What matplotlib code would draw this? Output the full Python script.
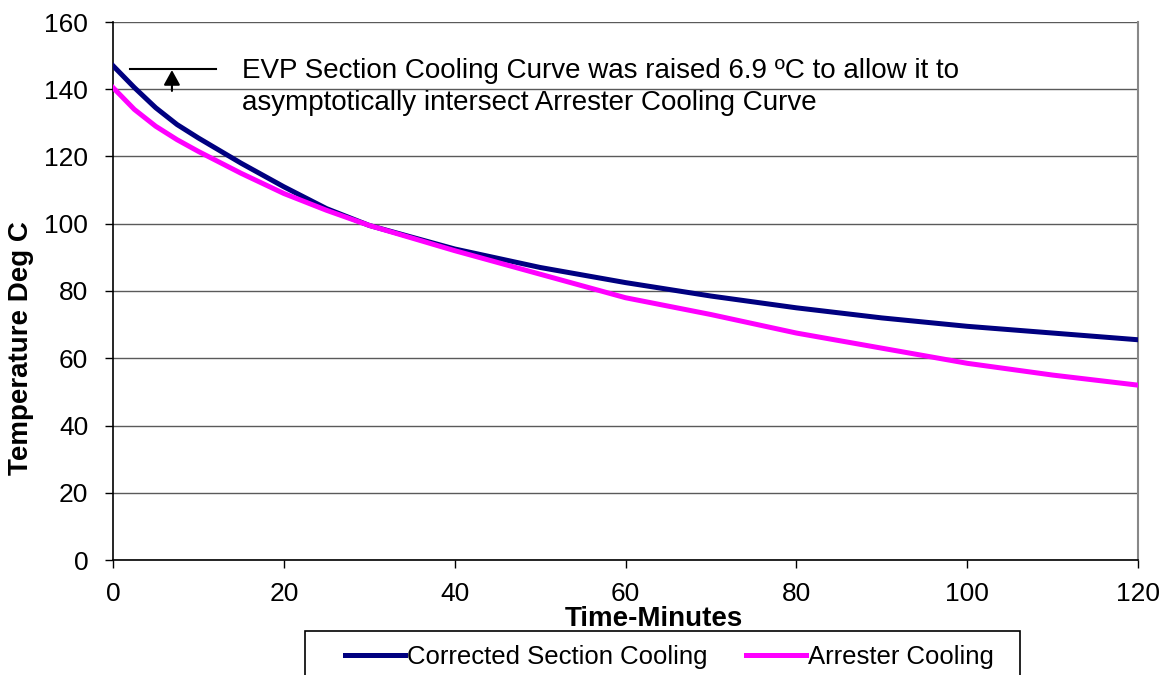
import matplotlib
matplotlib.use("Agg")
import matplotlib.pyplot as plt
from matplotlib.patches import Rectangle

plt.rcParams['font.family'] = ['Liberation Sans', 'DejaVu Sans']

# Data
time_min = [0, 2.5, 5, 7.5, 10, 15, 20, 25, 30, 40, 50, 60, 70, 80, 90, 100, 110, 120]
corrected_section = [147, 140.5, 134.5, 129.5, 125.5, 118, 111, 104.5, 99.5, 92.5, 87, 82.5,
                     78.5, 75, 72, 69.5, 67.5, 65.5]
arrester = [140.5, 134, 129, 125, 121.5, 115, 109, 104, 99.5, 92, 85, 78,
            73, 67.5, 63, 58.5, 55, 52]
y_ticks = [0, 20, 40, 60, 80, 100, 120, 140, 160]
x_ticks = [0, 20, 40, 60, 80, 100, 120]
series_names = ["Corrected Section Cooling", "Arrester Cooling"]
annotation_lines = ["EVP Section Cooling Curve was raised 6.9 \u00baC to allow it to",
                    "asymptotically intersect Arrester Cooling Curve"]

fig = plt.figure(figsize=(11.65, 6.75), dpi=100)
ax = fig.add_axes([113/1165, 1-560/675, (1138-113)/1165, (560-22)/675])

ax.plot(time_min, corrected_section, color='#000080', lw=3.6, label=series_names[0], zorder=3)
ax.plot(time_min, arrester, color='#FF00FF', lw=3.6, label=series_names[1], zorder=3)

ax.set_xlim(0, 120)
ax.set_ylim(0, 160)
ax.set_xticks(x_ticks)
ax.set_yticks(y_ticks)
ax.grid(axis='y', color='#5a5a5a', lw=1.0, zorder=1)
ax.tick_params(axis='both', direction='out', length=5.8, width=1, labelsize=19, colors='black')
ax.tick_params(axis='x', pad=10)
ax.tick_params(axis='y', pad=12)
for s in ['left', 'bottom']:
    ax.spines[s].set_color('black')
    ax.spines[s].set_linewidth(1.2)
ax.spines['top'].set_visible(False)
ax.spines['right'].set_color('#888888')
ax.spines['right'].set_linewidth(1.5)

ax.set_xlabel("Time-Minutes", fontsize=20, fontweight='bold')
ax.xaxis.set_label_coords((654-113)/1025, -(619-560)/538)
ax.xaxis.label.set_va('center')
ax.set_ylabel("Temperature Deg C", fontsize=20, fontweight='bold')
ax.yaxis.set_label_coords(-(113-21)/1025, (560-348)/538)
ax.yaxis.label.set_va('center')

# annotation line and arrow
ax.plot([2.0, 12.1], [146.0, 146.0], color='black', lw=1.5, zorder=4)
ax.annotate('', xy=(6.9, 145.7), xytext=(6.9, 139.5),
            arrowprops=dict(arrowstyle='-|>,head_length=0.6,head_width=0.33', color='black',
                            lw=1.5, mutation_scale=15, shrinkA=0, shrinkB=0), zorder=4)
ax.text(15.15, 143.3, annotation_lines[0], fontsize=20, va='baseline', ha='left')
ax.text(15.15, 133.8, annotation_lines[1], fontsize=20, va='baseline', ha='left')

# legend (frame drawn separately, cut by figure bottom as in reference)
leg = fig.legend(loc='center left', bbox_to_anchor=(345/1165, 1-657/675),
                 ncol=2, fontsize=18.5, frameon=False,
                 handlelength=2.33, handletextpad=0.08, columnspacing=1.5,
                 borderaxespad=0, borderpad=0)
fig.add_artist(Rectangle((305/1165, -0.1), 715/1165, (1-631/675)+0.1,
                         transform=fig.transFigure, fill=False, ec='black', lw=1.2))

fig.savefig("out.png", dpi=100)
